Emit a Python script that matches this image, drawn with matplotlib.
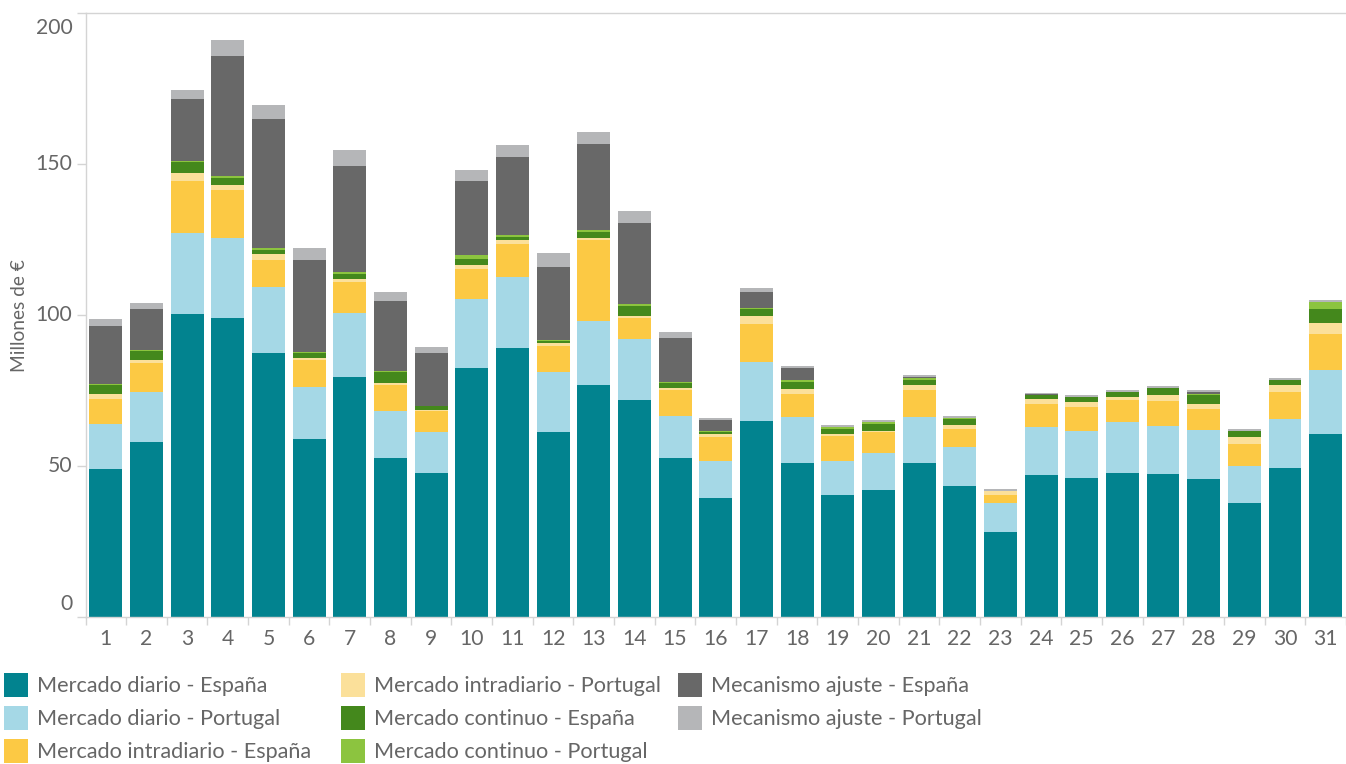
import matplotlib
matplotlib.use('Agg')
import matplotlib.pyplot as plt
import numpy as np
from matplotlib.transforms import ScaledTranslation
from matplotlib.patches import Rectangle

plt.rcParams['font.family'] = ['Lato', 'DejaVu Sans']

days = [str(i) for i in range(1, 32)]

diario_es = [49.0, 57.9, 100.3, 99.0, 87.4, 58.9, 79.5, 52.6, 47.6, 82.4,
             89.0, 61.2, 76.8, 71.8, 52.6, 39.3, 64.9, 50.9, 40.3, 42.0,
             50.9, 43.3, 28.1, 47.0, 46.0, 47.6, 47.3, 45.6, 37.7, 49.3, 60.6]
diario_pt = [14.9, 16.7, 26.8, 26.6, 21.9, 17.2, 21.2, 15.6, 13.6, 22.9,
             23.6, 19.9, 21.2, 20.2, 14.0, 12.3, 19.5, 15.3, 11.3, 12.2,
             15.3, 12.9, 9.6, 15.9, 15.6, 16.9, 15.9, 16.3, 12.2, 16.2, 21.2]
intra_es = [8.2, 9.5, 17.3, 15.8, 8.9, 9.0, 10.2, 8.6, 7.0, 9.9,
            10.9, 8.6, 26.9, 7.0, 8.5, 8.0, 12.6, 7.6, 8.3, 7.0,
            8.9, 6.0, 2.6, 7.6, 7.9, 7.3, 8.3, 6.9, 7.3, 9.0, 11.9]
intra_pt = [1.7, 1.0, 2.7, 1.7, 2.0, 0.8, 1.0, 0.7, 0.3, 1.4,
            1.4, 1.0, 0.6, 0.7, 0.7, 1.0, 2.7, 1.7, 0.7, 0.4,
            1.7, 1.3, 1.4, 1.6, 1.7, 1.0, 2.0, 1.7, 2.4, 2.3, 3.6]
continuo_es = [3.0, 3.0, 3.6, 2.3, 1.3, 1.6, 1.7, 3.6, 1.3, 2.0,
               1.0, 0.7, 2.0, 3.3, 1.7, 0.6, 2.3, 2.3, 1.6, 2.3,
               1.7, 2.0, 0.1, 1.4, 1.6, 1.7, 2.3, 3.0, 2.0, 1.7, 4.7]
continuo_pt = [0.3, 0.3, 0.3, 0.7, 0.7, 0.2, 0.7, 0.3, 0.2, 1.3,
               0.6, 0.3, 0.7, 0.6, 0.3, 0.4, 0.3, 0.7, 0.7, 0.6,
               0.5, 0.2, 0.0, 0.1, 0.1, 0.1, 0.1, 0.3, 0.1, 0.1, 2.3]
ajuste_es = [19.3, 13.6, 20.6, 39.7, 42.8, 30.5, 35.1, 23.2, 17.3, 24.5,
             25.9, 24.2, 28.5, 26.9, 14.6, 3.6, 5.3, 3.9, 0.1, 0.1,
             0.3, 0.1, 0.0, 0.1, 0.0, 0.0, 0.0, 0.7, 0.0, 0.0, 0.0]
ajuste_pt = [2.3, 2.0, 3.0, 5.3, 4.6, 4.0, 5.3, 3.0, 2.0, 3.7,
             3.9, 4.6, 4.0, 4.0, 2.0, 0.7, 1.3, 0.7, 0.6, 0.7,
             0.7, 0.6, 0.6, 0.6, 0.7, 0.6, 0.7, 0.6, 0.6, 0.6, 0.6]

series_names = ['Mercado diario - España', 'Mercado diario - Portugal',
                'Mercado intradiario - España', 'Mercado intradiario - Portugal',
                'Mercado continuo - España', 'Mercado continuo - Portugal',
                'Mecanismo ajuste - España', 'Mecanismo ajuste - Portugal']
series = [diario_es, diario_pt, intra_es, intra_pt,
          continuo_es, continuo_pt, ajuste_es, ajuste_pt]
colors = ['#02838F', '#A5D8E6', '#FCC944', '#FBE09A',
          '#44881C', '#8CC43F', '#686868', '#B5B6B8']

y_ticks = [0, 50, 100, 150, 200]
y_label = 'Millones de €'

W, H = 1346, 764
fig = plt.figure(figsize=(W / 100, H / 100), dpi=100)
ax_left, ax_bottom_px, ax_top_px = 85.5, 616.7, 13.3
ax = fig.add_axes([ax_left / W, (H - ax_bottom_px) / H,
                   1 - ax_left / W, (ax_bottom_px - ax_top_px) / H])

x = np.arange(len(days))
bottom = np.zeros(len(days))
for vals, c, name in zip(series, colors, series_names):
    ax.bar(x, vals, width=0.81, bottom=bottom, color=c, linewidth=0, label=name)
    bottom += np.array(vals)

ax.set_xlim(-0.5, len(days) - 0.5)
ax.set_ylim(0, 200)

axis_col = '#D4D4D4'
text_col = '#666666'
for s in ['left', 'bottom', 'top']:
    ax.spines[s].set_color(axis_col)
    ax.spines[s].set_linewidth(1)
ax.spines['right'].set_visible(False)

# x ticks
ax.set_xticks(x)
ax.set_xticklabels(days)
ax.set_xticks(np.arange(-0.5, len(days), 1), minor=True)
ax.tick_params(axis='x', which='major', length=0, pad=9, labelsize=15.2, labelcolor=text_col)
ax.tick_params(axis='x', which='minor', length=6, color=axis_col, width=1)

# y ticks
ax.set_yticks(y_ticks)
ax.set_yticklabels([])
ax.tick_params(axis='y', which='major', length=6.5, color=axis_col, width=1)
ytrans = ax.get_yaxis_transform()
for v in y_ticks:
    dy = 0
    if v == y_ticks[0]:
        dy = 13
    elif v == y_ticks[-1]:
        dy = -15
    ax.text(0, v, str(v), ha='right', va='center', fontsize=15.2, color=text_col,
            transform=ytrans + ScaledTranslation(-13 / 100, dy / 100, fig.dpi_scale_trans),
            clip_on=False)

fig.text(20 / W, 1 - 316 / H, y_label, rotation=90, ha='center', va='center',
         fontsize=13.8, color=text_col)

# legend (3 columns, column-major)
col_x = [4, 341, 678]
row_y = [686, 719, 752]
sq = 24
for i, (name, c) in enumerate(zip(series_names, colors)):
    col, row = divmod(i, 3)
    x0 = col_x[col]
    yc = row_y[row]
    fig.patches.append(Rectangle((x0 / W, 1 - (yc - 1 + sq / 2) / H), sq / W, sq / H,
                                 transform=fig.transFigure, facecolor=c,
                                 edgecolor='none'))
    fig.text((x0 + 33) / W, 1 - yc / H, name, ha='left', va='center',
             fontsize=15.6, color=text_col)

fig.savefig('out.png', dpi=100)
